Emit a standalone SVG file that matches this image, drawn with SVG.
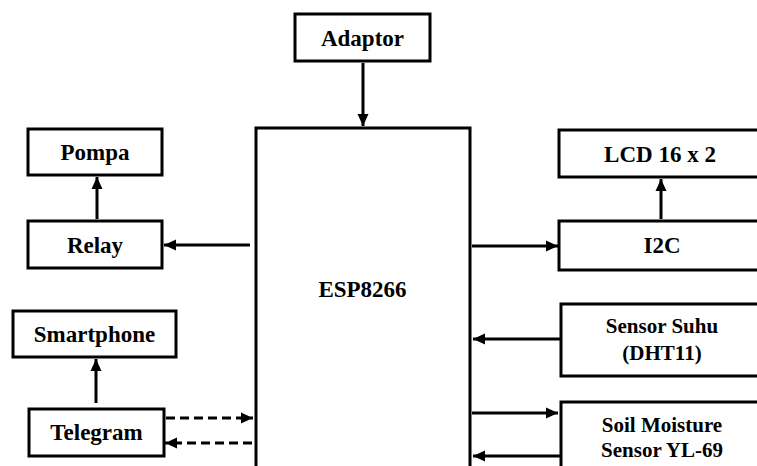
<svg xmlns="http://www.w3.org/2000/svg" width="757" height="466" viewBox="0 0 757 466">
<style>
.box{fill:#fff;stroke:#000;stroke-width:3}
.t{font-family:"Liberation Serif","Times New Roman",serif;font-weight:bold;font-size:23px;text-anchor:middle;fill:#000}
.s{font-size:21px}
.c{stroke:#000;stroke-width:3;fill:none}
.d{stroke-dasharray:9 5}
</style>
<defs>
<marker id="ah" markerUnits="userSpaceOnUse" markerWidth="14" markerHeight="14" viewBox="0 0 14 14" refX="13" refY="7" orient="auto">
<path d="M1,1.5 L13,7 L1,12.5 Z" fill="#000"/>
</marker>
</defs>
<rect x="0" y="0" width="757" height="466" fill="#fff"/>
<g id="connectors">
<line class="c" x1="363" y1="63" x2="363" y2="126" marker-end="url(#ah)"/>
<line class="c" x1="97" y1="219" x2="97" y2="177" marker-end="url(#ah)"/>
<line class="c" x1="250" y1="245" x2="164" y2="245" marker-end="url(#ah)"/>
<line class="c" x1="96" y1="403" x2="96" y2="359" marker-end="url(#ah)"/>
<line class="c d" x1="166" y1="418" x2="253" y2="418" marker-end="url(#ah)"/>
<line class="c d" x1="252" y1="443" x2="165" y2="443" marker-end="url(#ah)"/>
<line class="c" x1="661" y1="219" x2="661" y2="179" marker-end="url(#ah)"/>
<line class="c" x1="472" y1="246" x2="558" y2="246" marker-end="url(#ah)"/>
<line class="c" x1="560" y1="339" x2="473" y2="339" marker-end="url(#ah)"/>
<line class="c" x1="472" y1="413" x2="558" y2="413" marker-end="url(#ah)"/>
<line class="c" x1="560" y1="456" x2="473" y2="456" marker-end="url(#ah)"/>
</g>
<g id="adaptor"><rect class="box" x="295" y="14" width="135" height="47"/><text class="t" x="362.5" y="46">Adaptor</text></g>
<g id="esp8266"><path class="c" d="M256,470 V128 H470 V470"/><text class="t" x="362.5" y="297">ESP8266</text></g>
<g id="pompa"><rect class="box" x="28" y="129" width="134" height="46"/><text class="t" x="95" y="160">Pompa</text></g>
<g id="relay"><rect class="box" x="28" y="221" width="134" height="47"/><text class="t" x="95" y="253">Relay</text></g>
<g id="smartphone"><rect class="box" x="13" y="311" width="163" height="46"/><text class="t" x="94.5" y="342">Smartphone</text></g>
<g id="telegram"><rect class="box" x="29" y="409" width="135" height="47"/><text class="t" x="96.5" y="440">Telegram</text></g>
<g id="lcd"><rect class="box" x="559" y="130" width="210" height="47"/><text class="t" x="660" y="162">LCD 16 x 2</text></g>
<g id="i2c"><rect class="box" x="559" y="221" width="210" height="49"/><text class="t" x="662" y="253">I2C</text></g>
<g id="sensor-suhu"><rect class="box" x="561" y="304" width="210" height="72"/><text class="t s" x="662" y="333">Sensor Suhu</text><text class="t s" x="662" y="360">(DHT11)</text></g>
<g id="soil-moisture"><rect class="box" x="561" y="402" width="210" height="80"/><text class="t s" x="662" y="432">Soil Moisture</text><text class="t s" x="662" y="457">Sensor YL-69</text></g>
</svg>
